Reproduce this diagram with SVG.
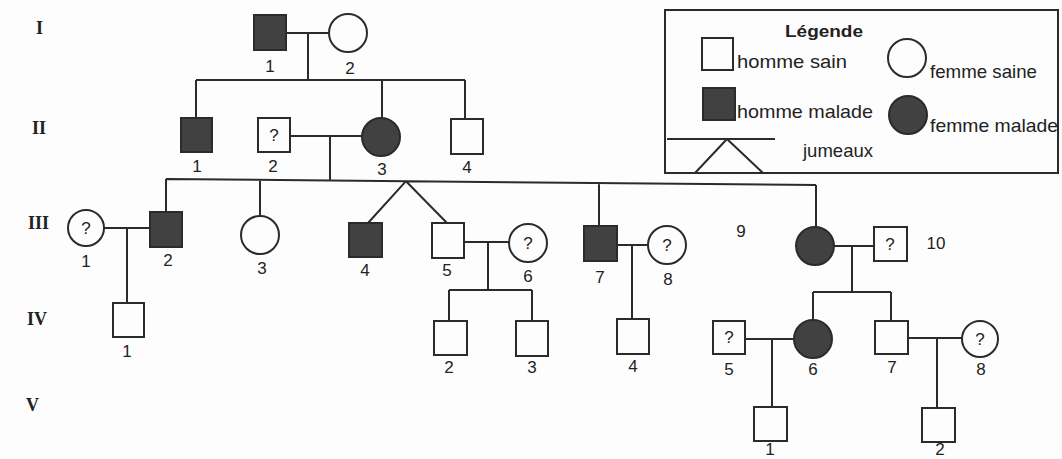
<svg xmlns="http://www.w3.org/2000/svg" width="1062" height="459" viewBox="0 0 1062 459">
<style>
.bg{fill:#fdfdfd}
.ln{stroke:#2b2b2b;stroke-width:2;fill:none}
.h{fill:#fdfdfd;stroke:#2b2b2b;stroke-width:2}
.m{fill:#414141;stroke:#2b2b2b;stroke-width:2}
.num{font-family:"Liberation Sans",Arial,sans-serif;font-size:17px;fill:#222;text-anchor:middle}
.q{font-family:"Liberation Sans",Arial,sans-serif;font-size:17px;fill:#222;text-anchor:middle}
.gen{font-family:"Liberation Serif","Times New Roman",serif;font-size:18px;font-weight:bold;fill:#222}
.lg{font-family:"Liberation Sans",Arial,sans-serif;font-size:19px;fill:#222}
.lgt{font-family:"Liberation Sans",Arial,sans-serif;font-size:17px;font-weight:bold;fill:#222;text-anchor:middle}
</style>
<rect class="bg" x="0" y="0" width="1062" height="459"/>

<g id="generations">
<text class="gen" x="36" y="34">I</text>
<text class="gen" x="32" y="134">II</text>
<text class="gen" x="28" y="229">III</text>
<text class="gen" x="27" y="325">IV</text>
<text class="gen" x="26" y="411">V</text>
</g>

<g id="connectors">
<path class="ln" d="M286 33 H330 M308 33 V80 M196 80 H465 M196 80 V118 M382 80 V118 M465 80 V118"/>
<path class="ln" d="M290 136 H362 M330 136 V180.5"/>
<path class="ln" d="M166 179 L816 185 M166 179 V212 M260 180 V216 M406 181.2 L368 223 M406 181.2 L447 223 M599 183 V226 M816 185 V227"/>
<path class="ln" d="M104 228 H150 M127 228 V303"/>
<path class="ln" d="M464 242 H510 M488 242 V290 M449 290 H532 M449 290 V321 M532 290 V321"/>
<path class="ln" d="M617 245 H648 M632 245 V319"/>
<path class="ln" d="M834 246 H874 M852 246 V292 M813 292 H891 M813 292 V320 M891 292 V321"/>
<path class="ln" d="M745 339 H795 M772 339 V407"/>
<path class="ln" d="M908 338 H962 M937 338 V408"/>
</g>

<g id="I-1"><rect class="m" x="254" y="15" width="32" height="35"/><text class="num" x="270" y="72">1</text></g>
<g id="I-2"><circle class="h" cx="348" cy="33" r="19"/><text class="num" x="350" y="74">2</text></g>

<g id="II-1"><rect class="m" x="181" y="118" width="31" height="34"/><text class="num" x="197" y="172">1</text></g>
<g id="II-2"><rect class="h" x="258" y="118" width="32" height="34"/><text class="q" x="274" y="141">?</text><text class="num" x="273" y="172">2</text></g>
<g id="II-3"><circle class="m" cx="381" cy="137" r="19"/><text class="num" x="382" y="175">3</text></g>
<g id="II-4"><rect class="h" x="451" y="119" width="32" height="35"/><text class="num" x="467" y="173">4</text></g>

<g id="III-1"><circle class="h" cx="86" cy="228" r="18"/><text class="q" x="86" y="234">?</text><text class="num" x="86" y="267">1</text></g>
<g id="III-2"><rect class="m" x="150" y="212" width="32" height="35"/><text class="num" x="168" y="266">2</text></g>
<g id="III-3"><circle class="h" cx="260" cy="235" r="19"/><text class="num" x="262" y="274">3</text></g>
<g id="III-4"><rect class="m" x="349" y="223" width="33" height="34"/><text class="num" x="365" y="276">4</text></g>
<g id="III-5"><rect class="h" x="432" y="223" width="32" height="35"/><text class="num" x="447" y="276">5</text></g>
<g id="III-6"><circle class="h" cx="528" cy="243" r="19"/><text class="q" x="528" y="249">?</text><text class="num" x="528" y="282">6</text></g>
<g id="III-7"><rect class="m" x="584" y="226" width="33" height="35"/><text class="num" x="600" y="283">7</text></g>
<g id="III-8"><circle class="h" cx="667" cy="245" r="19"/><text class="q" x="667" y="251">?</text><text class="num" x="668" y="285">8</text></g>
<g id="III-9"><circle class="m" cx="815" cy="246" r="19"/><text class="num" x="741" y="237">9</text></g>
<g id="III-10"><rect class="h" x="874" y="227" width="33" height="34"/><text class="q" x="890" y="250">?</text><text class="num" x="936" y="249">10</text></g>

<g id="IV-1"><rect class="h" x="113" y="303" width="31" height="34"/><text class="num" x="127" y="357">1</text></g>
<g id="IV-2"><rect class="h" x="434" y="321" width="33" height="34"/><text class="num" x="449" y="373">2</text></g>
<g id="IV-3"><rect class="h" x="516" y="321" width="32" height="35"/><text class="num" x="532" y="373">3</text></g>
<g id="IV-4"><rect class="h" x="617" y="319" width="32" height="35"/><text class="num" x="633" y="372">4</text></g>
<g id="IV-5"><rect class="h" x="713" y="321" width="32" height="33"/><text class="q" x="729" y="343">?</text><text class="num" x="729" y="375">5</text></g>
<g id="IV-6"><circle class="m" cx="813" cy="339" r="19"/><text class="num" x="813" y="375">6</text></g>
<g id="IV-7"><rect class="h" x="875" y="321" width="33" height="33"/><text class="num" x="892" y="373">7</text></g>
<g id="IV-8"><circle class="h" cx="980" cy="339" r="18"/><text class="q" x="980" y="345">?</text><text class="num" x="981" y="375">8</text></g>

<g id="V-1"><rect class="h" x="754" y="407" width="33" height="34"/><text class="num" x="770" y="455">1</text></g>
<g id="V-2"><rect class="h" x="922" y="408" width="33" height="34"/><text class="num" x="940" y="455">2</text></g>

<g id="legend">
<rect class="ln" x="665" y="10" width="393" height="163"/>
<text class="lgt" x="824" y="37" textLength="78" lengthAdjust="spacingAndGlyphs">Légende</text>
<rect class="h" x="702" y="38" width="31" height="32"/>
<text class="lg" x="737" y="68" textLength="110" lengthAdjust="spacingAndGlyphs">homme sain</text>
<circle class="h" cx="907" cy="58" r="19"/>
<text class="lg" x="930" y="78" textLength="107" lengthAdjust="spacingAndGlyphs">femme saine</text>
<rect class="m" x="703" y="88" width="32" height="32"/>
<text class="lg" x="737" y="118" textLength="136" lengthAdjust="spacingAndGlyphs">homme malade</text>
<circle class="m" cx="908" cy="115" r="19"/>
<text class="lg" x="930" y="132" textLength="128" lengthAdjust="spacingAndGlyphs">femme malade</text>
<path class="ln" d="M667 139 H775 M727 139 L695 173 M727 139 L763 173"/>
<text class="lg" x="803" y="157" textLength="70" lengthAdjust="spacingAndGlyphs">jumeaux</text>
</g>
</svg>
